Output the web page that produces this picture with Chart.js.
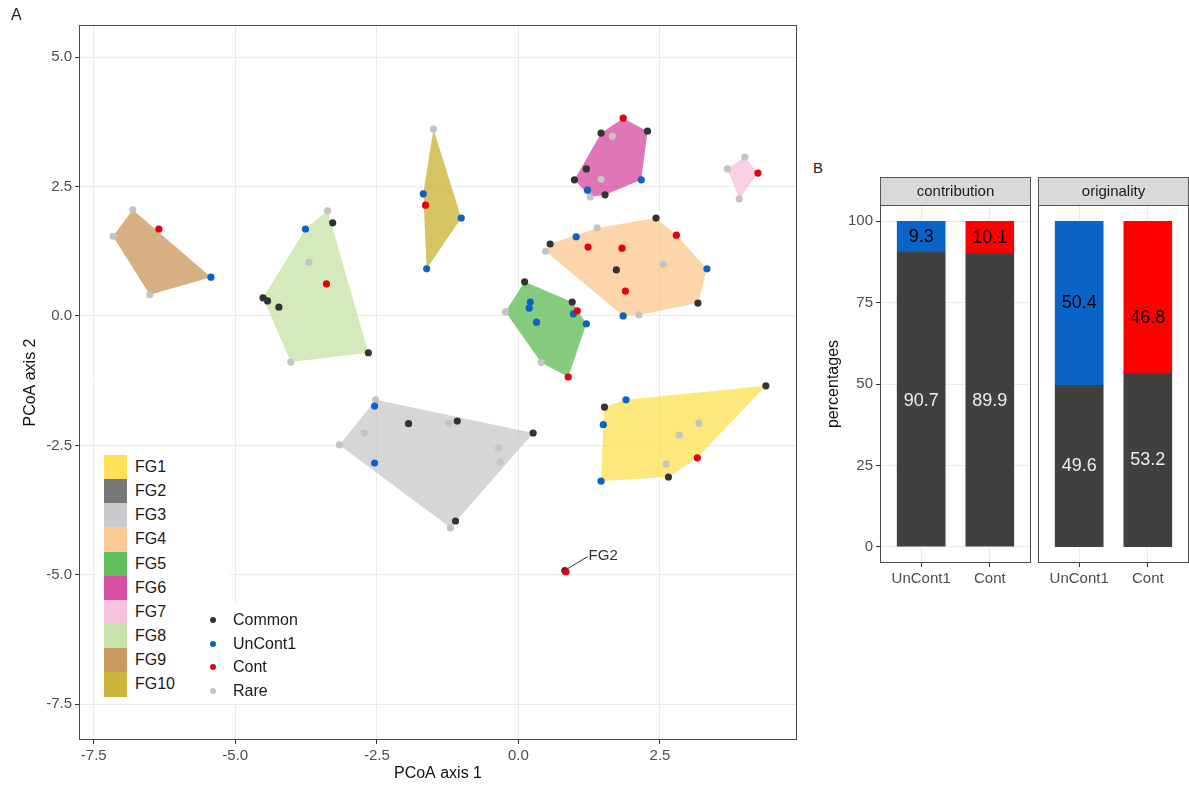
<!DOCTYPE html>
<html><head><meta charset="utf-8">
<script src="https://cdn.jsdelivr.net/npm/chart.js@4.4.1/dist/chart.umd.min.js"></script>
<style>
body{margin:0;background:#fff;width:1189px;height:787px;position:relative;overflow:hidden;font-family:'Liberation Sans',Arial,sans-serif;}
canvas{position:absolute;}
.abs{position:absolute;white-space:nowrap;}
.strip{position:absolute;box-sizing:border-box;background:#D9D9D9;border:1px solid #555;text-align:center;font-size:15px;color:#1a1a1a;line-height:26px;}
</style></head><body>
<canvas id="pcoa" width="810" height="787" style="left:0;top:0"></canvas>
<canvas id="bar1" width="215" height="415" style="left:820px;top:185px"></canvas>
<canvas id="bar2" width="154" height="415" style="left:1035px;top:185px"></canvas>
<div class="abs" style="left:11px;top:6px;font-size:16px;color:#222;">A</div>
<div class="abs" style="left:813px;top:159px;font-size:15px;color:#222;">B</div>
<div class="strip" style="left:880px;top:177px;width:151px;height:29px;">contribution</div>
<div class="strip" style="left:1038px;top:177px;width:151px;height:29px;">originality</div>
<div id="fgLegend" class="abs" style="left:96px;top:448px;width:134px;height:256px;background:#fff;"></div>
<div id="typeLegend" class="abs" style="left:200px;top:604px;width:100px;height:100px;background:#fff;"></div>
<script>
// ---------- Panel A data (PCoA coordinates) ----------
const xTicks = [-7.5, -5.0, -2.5, 0.0, 2.5];
const yTicks = [5.0, 2.5, 0.0, -2.5, -5.0, -7.5];

const fgNames = ['FG1','FG2','FG3','FG4','FG5','FG6','FG7','FG8','FG9','FG10'];
const fgColors = ['#FDE050','#707070','#C8C8CC','#FCC78E','#5DBB54','#D6479F','#F5C0DC','#C5E3A5','#C8955A','#C8B030'];

const fg1Hull = [[4.37,-1.35],[3.16,-2.74],[2.65,-3.11],[1.46,-3.19],[1.50,-2.10],[1.52,-1.76],[1.90,-1.62]];
const fg2Hull = [[0.82,-4.92],[0.84,-4.94]];
const fg3Hull = [[-2.52,-1.62],[0.26,-2.26],[-1.20,-4.09],[-3.16,-2.49]];
const fg4Hull = [[2.43,1.89],[2.79,1.56],[3.33,0.91],[3.17,0.25],[2.13,0.02],[1.85,0.00],[0.48,1.25],[0.56,1.39],[1.39,1.70]];
const fg5Hull = [[0.11,0.66],[0.95,0.27],[1.20,-0.15],[0.88,-1.18],[0.40,-0.90],[-0.23,0.08]];
const fg6Hull = [[1.85,3.82],[2.28,3.57],[2.17,2.63],[1.53,2.34],[1.27,2.30],[0.99,2.63],[1.46,3.53]];
const fg7Hull = [[4.00,3.07],[4.23,2.76],[3.90,2.26],[3.69,2.84]];
const fg8Hull = [[-3.37,2.03],[-2.65,-0.71],[-4.02,-0.89],[-4.51,0.35],[-3.76,1.68]];
const fg9Hull = [[-6.81,2.05],[-5.43,0.75],[-6.51,0.41],[-7.16,1.54]];
const fg10Hull = [[-1.50,3.61],[-1.01,1.89],[-1.62,0.91],[-1.68,2.36]];
const fgHulls = [fg1Hull,fg2Hull,fg3Hull,fg4Hull,fg5Hull,fg6Hull,fg7Hull,fg8Hull,fg9Hull,fg10Hull];

const typeNames = ['Common','UnCont1','Cont','Rare'];
const typeColors = ['#333333','#0F62C4','#E4000F','#C4C4C4'];

const commonPts = [[-3.28,1.80],[-4.51,0.35],[-4.43,0.29],[-4.23,0.17],[-2.65,-0.71],
  [1.46,3.53],[2.28,3.57],[1.20,2.84],[0.99,2.63],[1.53,2.34],
  [2.43,1.89],[0.56,1.39],[1.73,0.89],[3.17,0.25],
  [0.11,0.66],[0.95,0.27],
  [-1.94,-2.08],[-1.08,-2.03],[0.26,-2.26],[-1.11,-3.96],
  [4.37,-1.35],[1.52,-1.76],[2.65,-3.11],
  [0.82,-4.92]];
const uncontPts = [[-5.43,0.75],[-3.76,1.68],[-1.68,2.36],[-1.01,1.89],[-1.62,0.91],
  [2.17,2.63],[1.22,2.43],
  [1.02,1.53],[3.33,0.91],[1.85,0.00],
  [0.21,0.27],[0.19,0.15],[0.97,0.04],[0.32,-0.12],[1.20,-0.15],
  [-2.54,-1.74],[-2.54,-2.84],
  [1.90,-1.62],[1.50,-2.10],[1.46,-3.19]];
const contPts = [[-6.35,1.68],[-3.39,0.62],[-1.64,2.14],[1.85,3.82],[4.23,2.76],
  [2.79,1.56],[1.23,1.33],[1.83,1.31],[1.89,0.48],[1.04,0.10],[0.88,-1.18],
  [3.16,-2.74],[0.84,-4.94]];
const rarePts = [[-6.81,2.05],[-7.16,1.54],[-6.51,0.41],[-3.37,2.03],[-3.70,1.04],[-4.02,-0.89],
  [-1.50,3.61],[1.66,3.47],[1.46,2.64],[1.27,2.30],[4.00,3.07],[3.69,2.84],[3.90,2.26],
  [1.39,1.70],[0.48,1.25],[2.56,1.00],[2.13,0.02],[-0.23,0.08],[0.40,-0.90],
  [-2.72,-2.26],[-3.16,-2.49],[-1.23,-2.07],[-0.35,-2.55],[-0.32,-2.82],[-1.20,-4.09],[-2.52,-1.62],
  [3.19,-2.07],[2.84,-2.30],[2.61,-2.86]];
const typePts = [commonPts, uncontPts, contPts, rarePts];

const fg2LeaderLine = [[0.87,-4.88],[1.22,-4.65]];
const fg2LabelAt = [1.24,-4.63];

// ---------- Panel B data ----------
const barCats = ['UnCont1','Cont'];
const contribCommon = [90.7, 89.9];
const contribSpecific = [9.3, 10.1];
const origCommon = [49.6, 53.2];
const origSpecific = [50.4, 46.8];
const contribCommonLabelY = [44.8, 44.8];
const contribSpecificLabelY = [95.3, 95.0];
const origCommonLabelY = [24.8, 26.6];
const origSpecificLabelY = [74.8, 70.2];
const barYTicks = [0, 25, 50, 75, 100];
const specificColors = ['#0A64C8', '#FF0000'];

// ---------- helpers ----------
Chart.defaults.font.family = "'Liberation Sans', Arial, sans-serif";
const toXY = a => a.map(p => ({x:p[0], y:p[1]}));
function hexA(h, a){const n=parseInt(h.slice(1),16);return `rgba(${n>>16},${(n>>8)&255},${n&255},${a})`;}

const panelBorder = {id:'panelBorder', afterDraw(c){const a=c.chartArea,ctx=c.ctx;ctx.save();ctx.strokeStyle='#4a4a4a';ctx.lineWidth=1;
  ctx.strokeRect(Math.round(a.left)+0.5,Math.round(a.top)+0.5,Math.round(a.right-a.left)-1,Math.round(a.bottom-a.top)-1);ctx.restore();}};

const textPlugin = {id:'textLabels', afterDatasetsDraw(c){const items=(c.options.plugins.textLabels||{}).items||[];const ctx=c.ctx;
  ctx.save();items.forEach(it=>{ctx.font=it.font;ctx.fillStyle=it.color;ctx.textAlign=it.align||'center';ctx.textBaseline='middle';
  const xs=c.scales.x, ys=c.scales.y; ctx.fillText(it.text, xs.getPixelForValue(it.x), ys.getPixelForValue(it.y));});ctx.restore();}};

// ---------- Panel A chart ----------
const dsA = [];
fgHulls.forEach((h,i)=>{
  const pts = toXY(h.concat([h[0]]));
  dsA.push({type:'line', label:fgNames[i], data:pts, showLine:true, fill:'shape', tension:0,
    backgroundColor:hexA(fgColors[i],0.75), borderColor:'rgba(0,0,0,0)', borderWidth:0, pointRadius:0, order:10});
});
dsA.push({type:'line', label:'FG2 label', data:toXY(fg2LeaderLine), showLine:true, fill:false, borderColor:'#333', borderWidth:1, pointRadius:0, order:6});
const typeOrder = [4,3,2,5];
typePts.forEach((p,i)=>{
  dsA.push({type:'scatter', label:typeNames[i], data:toXY(p), backgroundColor:typeColors[i], borderWidth:0,
    pointRadius:3.6, order:typeOrder[i]});
});

new Chart(document.getElementById('pcoa'), {
  type:'scatter',
  data:{datasets:dsA},
  options:{responsive:false, animation:false, devicePixelRatio:1,
    layout:{padding:{left:17,top:25,right:13,bottom:0}},
    plugins:{legend:{display:false}, tooltip:{enabled:false},
      textLabels:{items:[{text:'FG2', x:fg2LabelAt[0], y:fg2LabelAt[1], color:'#333', font:"15px 'Liberation Sans', Arial", align:'left'}]}},
    scales:{
      x:{type:'linear', min:-7.76, max:4.92,
        afterBuildTicks:s=>{s.ticks=xTicks.map(v=>({value:v}));},
        afterFit:s=>{s.height=47;},
        grid:{color:'#EBEBEB', tickColor:'#333', tickLength:4},
        border:{display:false},
        ticks:{color:'#4D4D4D', font:{size:15}, padding:3, autoSkip:false, maxRotation:0, callback:v=>v.toFixed(1)},
        title:{display:true, text:'PCoA axis 1', color:'#111', font:{size:16}, padding:{top:2,bottom:4}}},
      y:{type:'linear', min:-8.19, max:5.62,
        afterBuildTicks:s=>{s.ticks=yTicks.map(v=>({value:v}));},
        afterFit:s=>{s.width=62;},
        grid:{color:'#EBEBEB', tickColor:'#333', tickLength:4},
        border:{display:false},
        ticks:{color:'#4D4D4D', font:{size:15}, padding:3, autoSkip:false, callback:v=>v.toFixed(1)},
        title:{display:true, text:'PCoA axis 2', color:'#111', font:{size:16}, padding:{top:4,bottom:2}}}
    }},
  plugins:[panelBorder, textPlugin]
});

// ---------- Legends (HTML) ----------
const fgL = document.getElementById('fgLegend');
fgNames.forEach((n,i)=>{
  const top = 7 + i*24.15;
  const b = document.createElement('div'); b.className='abs';
  b.style.cssText = `left:8px;top:${top}px;width:23px;height:24.2px;background:${hexA(fgColors[i],0.95)};`;
  fgL.appendChild(b);
  const t = document.createElement('div'); t.className='abs'; t.textContent=n;
  t.style.cssText = `left:39px;top:${top+3}px;font-size:16px;color:#1a1a1a;line-height:18px;`;
  fgL.appendChild(t);
});
const tL = document.getElementById('typeLegend');
typeNames.forEach((n,i)=>{
  const cy = 16 + i*23.5;
  const d = document.createElement('div'); d.className='abs';
  d.style.cssText = `left:10px;top:${cy-3}px;width:6px;height:6px;border-radius:3px;background:${typeColors[i]};`;
  tL.appendChild(d);
  const t = document.createElement('div'); t.className='abs'; t.textContent=n;
  t.style.cssText = `left:33px;top:${cy-9}px;font-size:16px;color:#1a1a1a;line-height:18px;`;
  tL.appendChild(t);
});

// ---------- Panel B charts ----------
function barChart(id, common, specific, commonLY, specificLY, showY, pad){
  const items = [];
  barCats.forEach((c,i)=>{
    items.push({text:specific[i].toFixed(1), x:i+1, y:specificLY[i], color:'#000', font:"18px 'Liberation Sans', Arial"});
    items.push({text:common[i].toFixed(1), x:i+1, y:commonLY[i], color:'#EEEEEE', font:"18px 'Liberation Sans', Arial"});
  });
  return new Chart(document.getElementById(id), {
    type:'bar',
    data:{datasets:[
      {label:'common', data:common.map((v,i)=>({x:i+1,y:v})), backgroundColor:'#404040', barThickness:48, borderWidth:0},
      {label:'specific', data:specific.map((v,i)=>({x:i+1,y:v})), backgroundColor:specificColors, barThickness:48, borderWidth:0}
    ]},
    options:{responsive:false, animation:false, devicePixelRatio:1,
      layout:{padding:pad},
      plugins:{legend:{display:false}, tooltip:{enabled:false}, textLabels:{items}},
      scales:{
        x:{type:'linear', min:0.4, max:2.6, stacked:true, offset:false,
          afterBuildTicks:s=>{s.ticks=barCats.map((c,i)=>({value:i+1}));},
          afterFit:s=>{s.height=37;},
          grid:{color:'#EBEBEB', tickColor:'#333', tickLength:4, offset:false},
          border:{display:false},
          ticks:{color:'#4D4D4D', font:{size:15}, padding:3, autoSkip:false, maxRotation:0, callback:v=>barCats[Math.round(v)-1]}},
        y:{type:'linear', min:-5, max:105, stacked:true, display:showY,
          afterBuildTicks:s=>{s.ticks=barYTicks.map(v=>({value:v}));},
          afterFit:s=>{s.width=showY?60:0;},
          grid:{color:'#EBEBEB', tickColor:'#333', tickLength:4},
          border:{display:false},
          ticks:{color:'#4D4D4D', font:{size:15}, padding:3, autoSkip:false, callback:v=>String(v)},
          title:{display:true, text:'percentages', color:'#111', font:{size:16}, padding:{top:4,bottom:2}}}
      }},
    plugins:[panelBorder, textPlugin]
  });
}
barChart('bar1', contribCommon, contribSpecific, contribCommonLabelY, contribSpecificLabelY, true, {left:0,right:4,top:20,bottom:0});
barChart('bar2', origCommon, origSpecific, origCommonLabelY, origSpecificLabelY, false, {left:3,right:0,top:20,bottom:0});
</script>
</body></html>
